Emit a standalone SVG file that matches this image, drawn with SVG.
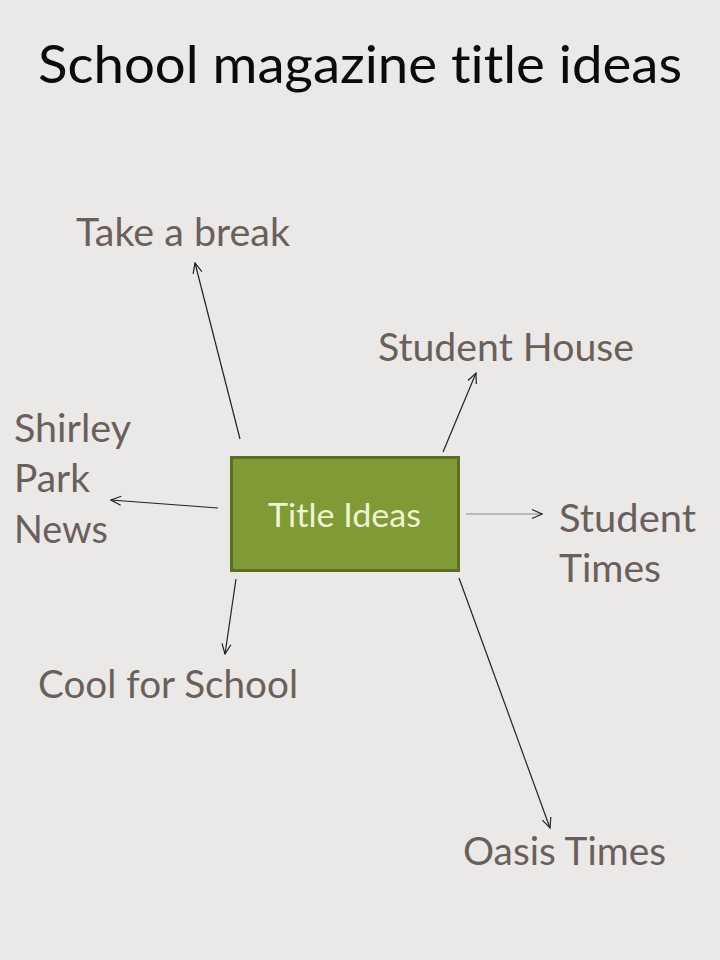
<svg xmlns="http://www.w3.org/2000/svg" width="720" height="960" viewBox="0 0 720 960">
<defs>
<marker id="arr" viewBox="0 0 12 12" refX="11" refY="6" markerWidth="12" markerHeight="12" markerUnits="userSpaceOnUse" orient="auto">
<polyline points="1,1.5 11,6 1,10.5" fill="none" stroke="#222" stroke-width="1.2"/>
</marker>
</defs>
<style>
text{font-variant-ligatures:none}
.title{font-family:Lato,"Open Sans","Liberation Sans",sans-serif;font-size:53px;fill:#0a0a0a}
.lbl{font-family:Lato,"Open Sans","Liberation Sans",sans-serif;font-size:39px;fill:#6a605b}
.conn{stroke:#222;stroke-width:1.2;fill:none;marker-end:url(#arr)}
.box{fill:#809a35;stroke:#5b6e22;stroke-width:3}
.boxtxt{font-family:Lato,"Open Sans","Liberation Sans",sans-serif;font-size:33px;fill:#eef4d2}
</style>
<rect width="720" height="960" fill="#ebe9e7"/>
<text class="title" x="38" y="83" textLength="644" lengthAdjust="spacingAndGlyphs">School magazine title ideas</text>
<g id="connectors">
<line class="conn" x1="240" y1="439" x2="195" y2="263"/>
<line class="conn" x1="443" y1="452" x2="476" y2="373"/>
<line class="conn" x1="218" y1="508" x2="111" y2="500"/>
<line class="conn" x1="466" y1="514" x2="542" y2="514" style="stroke:#8a8a8a"/>
<line class="conn" x1="236" y1="579" x2="225" y2="654"/>
<line class="conn" x1="459" y1="578" x2="550" y2="828"/>
</g>
<g id="center">
<rect class="box" x="231.5" y="457.5" width="227" height="113"/>
<text class="boxtxt" x="268" y="527" textLength="153" lengthAdjust="spacingAndGlyphs">Title Ideas</text>
</g>
<g id="take-a-break"><text class="lbl" x="76" y="246" textLength="214" lengthAdjust="spacingAndGlyphs">Take a break</text></g>
<g id="student-house"><text class="lbl" x="378" y="361" textLength="256" lengthAdjust="spacingAndGlyphs">Student House</text></g>
<g id="shirley-park-news">
<text class="lbl" x="14" y="442" textLength="117" lengthAdjust="spacingAndGlyphs">Shirley</text>
<text class="lbl" x="14" y="492" textLength="76" lengthAdjust="spacingAndGlyphs">Park</text>
<text class="lbl" x="14" y="543" textLength="94" lengthAdjust="spacingAndGlyphs">News</text>
</g>
<g id="student-times">
<text class="lbl" x="559" y="532" textLength="137" lengthAdjust="spacingAndGlyphs">Student</text>
<text class="lbl" x="559" y="582" textLength="102" lengthAdjust="spacingAndGlyphs">Times</text>
</g>
<g id="cool-for-school"><text class="lbl" x="38" y="698" textLength="260" lengthAdjust="spacingAndGlyphs">Cool for School</text></g>
<g id="oasis-times"><text class="lbl" x="463" y="865" textLength="203" lengthAdjust="spacingAndGlyphs">Oasis Times</text></g>
</svg>
